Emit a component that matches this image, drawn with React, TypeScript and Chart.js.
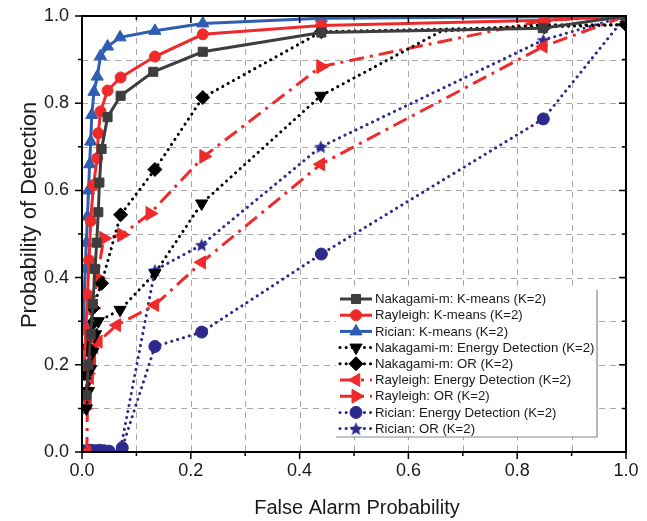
import React, { useEffect, useRef } from 'react';
import { Chart, registerables } from 'chart.js';

Chart.register(...registerables);

// ---------- data ----------
const nakKmX = [0.008, 0.012, 0.016, 0.020, 0.024, 0.027, 0.030, 0.032, 0.036, 0.047, 0.071, 0.131, 0.222, 0.44, 0.847, 1.0];
const nakKmY = [0.13, 0.20, 0.27, 0.34, 0.42, 0.48, 0.55, 0.618, 0.695, 0.768, 0.817, 0.872, 0.918, 0.962, 0.972, 1.0];

const rayKmX = [0.004, 0.007, 0.010, 0.013, 0.016, 0.021, 0.028, 0.030, 0.034, 0.047, 0.071, 0.134, 0.222, 0.44, 0.85, 1.0];
const rayKmY = [0.20, 0.28, 0.36, 0.44, 0.53, 0.612, 0.674, 0.731, 0.781, 0.829, 0.859, 0.907, 0.958, 0.978, 0.99, 1.0];

const ricKmX = [0.002, 0.004, 0.006, 0.008, 0.010, 0.012, 0.014, 0.016, 0.018, 0.022, 0.028, 0.034, 0.047, 0.070, 0.134, 0.222, 0.44, 0.85, 1.0];
const ricKmY = [0.30, 0.36, 0.42, 0.48, 0.54, 0.60, 0.66, 0.712, 0.773, 0.826, 0.861, 0.908, 0.93, 0.951, 0.966, 0.983, 0.995, 0.998, 1.0];

const nakEdX = [0.008, 0.012, 0.016, 0.020, 0.025, 0.030, 0.070, 0.134, 0.220, 0.439, 0.66, 0.85, 1.0];
const nakEdY = [0.10, 0.14, 0.19, 0.23, 0.27, 0.30, 0.326, 0.41, 0.570, 0.817, 0.965, 0.98, 0.98];
const nakEdMarked = [true, true, true, true, true, true, true, true, true, true, false, true, true];

const nakOrX = [0.005, 0.010, 0.015, 0.020, 0.036, 0.071, 0.134, 0.222, 0.44, 0.85, 1.0];
const nakOrY = [0.18, 0.24, 0.29, 0.33, 0.387, 0.544, 0.648, 0.813, 0.964, 0.975, 0.98];

const rayEdX = [0.009, 0.010, 0.014, 0.018, 0.022, 0.030, 0.064, 0.134, 0.220, 0.439, 0.848, 1.0];
const rayEdY = [0.0, 0.12, 0.17, 0.21, 0.24, 0.253, 0.291, 0.337, 0.435, 0.66, 0.93, 1.0];

const rayOrX = [0.005, 0.010, 0.015, 0.020, 0.028, 0.040, 0.073, 0.125, 0.224, 0.439, 0.85, 1.0];
const rayOrY = [0.10, 0.18, 0.26, 0.33, 0.40, 0.49, 0.498, 0.547, 0.678, 0.884, 0.99, 1.0];

const ricEdX = [0.0, 0.008, 0.016, 0.024, 0.032, 0.040, 0.050, 0.074, 0.134, 0.220, 0.440, 0.848, 1.0];
const ricEdY = [0.003, 0.003, 0.004, 0.003, 0.004, 0.003, 0.002, 0.01, 0.242, 0.275, 0.454, 0.764, 1.0];

const ricOrX = [0.0, 0.01, 0.02, 0.03, 0.04, 0.05, 0.070, 0.134, 0.220, 0.439, 0.848, 1.0];
const ricOrY = [0.0, 0.0, 0.0, 0.0, 0.0, 0.0, 0.0, 0.417, 0.475, 0.70, 0.945, 1.0];

const seriesLabels = [
  'Nakagami-m: K-means (K=2)',
  'Rayleigh: K-means (K=2)',
  'Rician: K-means (K=2)',
  'Nakagami-m: Energy Detection (K=2)',
  'Nakagami-m: OR (K=2)',
  'Rayleigh: Energy Detection (K=2)',
  'Rayleigh: OR (K=2)',
  'Rician: Energy Detection (K=2)',
  'Rician: OR (K=2)',
];

const gridTicks = [0.1, 0.2, 0.3, 0.4, 0.5, 0.6, 0.7, 0.8, 0.9];
const allTicks = [0, 0.1, 0.2, 0.3, 0.4, 0.5, 0.6, 0.7, 0.8, 0.9, 1.0];

const xTitle = 'False Alarm Probability';
const yTitle = 'Probability of Detection';

// ---------- styles ----------
const FONT = '"Liberation Sans", Arial, sans-serif';
const GRAY = '#3d3d3d';
const RED = '#ef2a2a';
const BLUE = '#2f5db3';
const BLACK = '#000000';
const NAVY = '#2c2a8c';

const DOT = [0.1, 6];
const DASHDOT = [15, 6, 3, 6];

function pts(xs: number[], ys: number[]) {
  return xs.map((x, i) => ({ x, y: ys[i] }));
}

function makeStar(color: string, size: number) {
  const c = document.createElement('canvas');
  c.width = size;
  c.height = size;
  const g = c.getContext('2d')!;
  const cx = size / 2, cy = size / 2 + 0.6;
  const R = size / 2 - 0.3, r = R * 0.45;
  g.beginPath();
  for (let i = 0; i < 10; i++) {
    const a = -Math.PI / 2 + (i * Math.PI) / 5;
    const rr = i % 2 === 0 ? R : r;
    const px = cx + Math.cos(a) * rr, py = cy + Math.sin(a) * rr;
    if (i === 0) g.moveTo(px, py); else g.lineTo(px, py);
  }
  g.closePath();
  g.fillStyle = color;
  g.fill();
  return c;
}

function drawMarker(ctx: CanvasRenderingContext2D, ds: any, x: number, y: number) {
  const style = ds.pointStyle;
  const r = ds.pointRadius instanceof Array ? Math.max(...ds.pointRadius) : ds.pointRadius;
  const rot = ((ds.pointRotation || 0) * Math.PI) / 180;
  ctx.save();
  ctx.fillStyle = ds.pointBackgroundColor;
  ctx.strokeStyle = ds.pointBorderColor;
  ctx.lineWidth = 1;
  ctx.setLineDash([]);
  if (typeof style !== 'string') {
    ctx.drawImage(style, x - style.width / 2, y - style.height / 2);
    ctx.restore();
    return;
  }
  ctx.beginPath();
  if (style === 'circle') {
    ctx.arc(x, y, r, 0, Math.PI * 2);
  } else if (style === 'rect') {
    const s = r * Math.SQRT1_2;
    ctx.rect(x - s, y - s, 2 * s, 2 * s);
  } else if (style === 'rectRot') {
    ctx.moveTo(x, y - r);
    ctx.lineTo(x + r, y);
    ctx.lineTo(x, y + r);
    ctx.lineTo(x - r, y);
    ctx.closePath();
  } else if (style === 'triangle') {
    let a = rot;
    ctx.moveTo(x + Math.sin(a) * r, y - Math.cos(a) * r);
    a += (2 * Math.PI) / 3;
    ctx.lineTo(x + Math.sin(a) * r, y - Math.cos(a) * r);
    a += (2 * Math.PI) / 3;
    ctx.lineTo(x + Math.sin(a) * r, y - Math.cos(a) * r);
    ctx.closePath();
  }
  ctx.fill();
  ctx.stroke();
  ctx.restore();
}

const framePlugin = {
  id: 'frame',
  beforeDatasetsDraw(chart: any) {
    const { ctx, chartArea: a, scales } = chart;
    const xs = scales.x, ys = scales.y;
    ctx.save();
    ctx.strokeStyle = '#a8a8a8';
    ctx.lineWidth = 1;
    ctx.setLineDash([6, 5]);
    for (const v of gridTicks) {
      const px = Math.round(xs.getPixelForValue(v)) + 0.5;
      ctx.beginPath();
      ctx.moveTo(px, a.top);
      ctx.lineTo(px, a.bottom);
      ctx.stroke();
      const py = Math.round(ys.getPixelForValue(v)) + 0.5;
      ctx.beginPath();
      ctx.moveTo(a.left, py);
      ctx.lineTo(a.right, py);
      ctx.stroke();
    }
    ctx.restore();
  },
  afterDatasetsDraw(chart: any) {
    const { ctx, chartArea: a, scales } = chart;
    const xs = scales.x, ys = scales.y;
    ctx.save();
    ctx.strokeStyle = '#000';
    ctx.lineWidth = 2;
    ctx.setLineDash([]);
    ctx.strokeRect(a.left, a.top, a.right - a.left, a.bottom - a.top);
    ctx.lineWidth = 1.5;
    allTicks.forEach((v, i) => {
      const major = i % 2 === 0;
      const L = major ? 7 : 4;
      const px = xs.getPixelForValue(v);
      const py = ys.getPixelForValue(v);
      ctx.beginPath();
      ctx.moveTo(px, a.bottom);
      ctx.lineTo(px, a.bottom + L);
      ctx.moveTo(px, a.top);
      ctx.lineTo(px, a.top + L);
      ctx.moveTo(a.left, py);
      ctx.lineTo(a.left - L, py);
      ctx.moveTo(a.right, py);
      ctx.lineTo(a.right - L, py);
      ctx.stroke();
    });
    ctx.restore();
  },
  afterDraw(chart: any) {
    const { ctx, chartArea: a } = chart;
    ctx.save();
    ctx.fillStyle = '#1a1a1a';
    ctx.textAlign = 'center';
    ctx.textBaseline = 'middle';
    ctx.font = `20px ${FONT}`;
    ctx.fillText(xTitle, (a.left + a.right) / 2 + 3, 508);
    ctx.save();
    ctx.translate(30, 215);
    ctx.rotate(-Math.PI / 2);
    ctx.font = `22px ${FONT}`;
    ctx.fillText(yTitle, 0, 0);
    ctx.restore();

    // legend
    const bx0 = 336, bx1 = 597, by0 = 290, by1 = 437;
    ctx.fillStyle = '#ffffff';
    ctx.fillRect(bx0, by0, bx1 - bx0, by1 - by0);
    ctx.strokeStyle = '#8a8a8a';
    ctx.lineWidth = 1.2;
    ctx.beginPath();
    ctx.moveTo(bx1, by0);
    ctx.lineTo(bx1, by1);
    ctx.lineTo(bx0, by1);
    ctx.stroke();

    const datasets = chart.data.datasets;
    datasets.forEach((ds: any, i: number) => {
      const yy = 299 + i * 16.2;
      ctx.save();
      ctx.strokeStyle = ds.borderColor;
      ctx.lineWidth = ds.borderWidth;
      ctx.lineCap = ds.borderCapStyle || 'butt';
      ctx.setLineDash(ds.borderDash || []);
      ctx.beginPath();
      ctx.moveTo(340, yy);
      ctx.lineTo(372, yy);
      ctx.stroke();
      ctx.restore();
      drawMarker(ctx, ds, 356, yy);
      ctx.fillStyle = '#1a1a1a';
      ctx.textAlign = 'left';
      ctx.textBaseline = 'middle';
      ctx.font = `13.2px ${FONT}`;
      ctx.fillText(ds.label, 375, yy + 0.5);
    });
    ctx.restore();
  },
};

export default function App() {
  const ref = useRef<HTMLCanvasElement | null>(null);

  useEffect(() => {
    document.body.style.margin = '0';
    const star = makeStar(NAVY, 15);
    const base = {
      showLine: true,
      tension: 0,
      pointBorderWidth: 1,
      fill: false,
    };
    const mk = (label: string, xs: number[], ys: number[], color: string, width: number, dash: number[] | undefined, cap: string, style: any, radius: any, rotation = 0, clip: any = undefined) => ({
      ...base,
      label,
      data: pts(xs, ys),
      borderColor: color,
      backgroundColor: color,
      pointBackgroundColor: color,
      pointBorderColor: color,
      borderWidth: width,
      borderDash: dash || [],
      borderCapStyle: cap,
      pointStyle: style,
      pointRadius: radius,
      pointRotation: rotation,
      ...(clip !== undefined ? { clip } : {}),
    });

    const datasets = [
      mk(seriesLabels[0], nakKmX, nakKmY, GRAY, 3, undefined, 'butt', 'rect', 6.4),
      mk(seriesLabels[1], rayKmX, rayKmY, RED, 3, undefined, 'butt', 'circle', 5.5),
      mk(seriesLabels[2], ricKmX, ricKmY, BLUE, 3, undefined, 'butt', 'triangle', 7),
      mk(seriesLabels[3], nakEdX, nakEdY, BLACK, 3, DOT, 'round', 'triangle', nakEdMarked.map((m) => (m ? 7 : 0)), 180),
      mk(seriesLabels[4], nakOrX, nakOrY, BLACK, 3, DOT, 'round', 'rectRot', 7),
      mk(seriesLabels[5], rayEdX, rayEdY, RED, 3, DASHDOT, 'butt', 'triangle', 7.5, -90),
      mk(seriesLabels[6], rayOrX, rayOrY, RED, 3, DASHDOT, 'butt', 'triangle', 8, 90),
      mk(seriesLabels[7], ricEdX, ricEdY, NAVY, 3, DOT, 'round', 'circle', 6, 0, 1),
      mk(seriesLabels[8], ricOrX, ricOrY, NAVY, 3, DOT, 'round', star, 7, 0, 1),
    ];

    const chart = new Chart(ref.current!, {
      type: 'scatter',
      data: { datasets: datasets as any },
      options: {
        responsive: false,
        animation: false,
        events: [],
        layout: { padding: { left: 0, right: 21, top: 16, bottom: 0 } },
        plugins: {
          legend: { display: false },
          tooltip: { enabled: false },
        },
        scales: {
          x: {
            type: 'linear',
            min: 0,
            max: 1,
            grid: { display: false, drawTicks: false },
            border: { display: false },
            ticks: {
              stepSize: 0.2,
              padding: 8,
              maxRotation: 0,
              autoSkip: false,
              color: '#1a1a1a',
              font: { family: FONT, size: 18 },
              callback: (v: any) => Number(v).toFixed(1),
            },
            afterFit: (s: any) => {
              s.height = 69;
              s.paddingLeft = 0;
              s.paddingRight = 0;
            },
          },
          y: {
            type: 'linear',
            min: 0,
            max: 1,
            grid: { display: false, drawTicks: false },
            border: { display: false },
            ticks: {
              stepSize: 0.2,
              padding: 13,
              color: '#1a1a1a',
              font: { family: FONT, size: 18 },
              callback: (v: any) => Number(v).toFixed(1),
            },
            afterFit: (s: any) => {
              s.width = 82;
              s.paddingTop = 0;
              s.paddingBottom = 0;
            },
          },
        },
      },
      plugins: [framePlugin],
    });
    return () => chart.destroy();
  }, []);

  return (
    <div style={{ width: 647, height: 521 }}>
      <canvas ref={ref} width={647} height={521} style={{ display: 'block' }} />
    </div>
  );
}
